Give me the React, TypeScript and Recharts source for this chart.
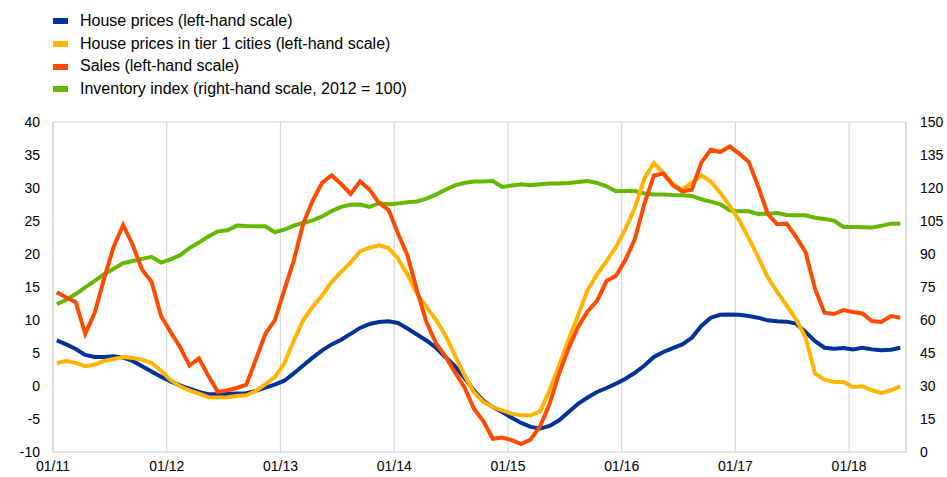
import React from 'react';
import { LineChart, Line, XAxis, YAxis, CartesianGrid } from 'recharts';

const xTickLabels = ['01/11', '01/12', '01/13', '01/14', '01/15', '01/16', '01/17', '01/18'];
const leftTicks = [-10, -5, 0, 5, 10, 15, 20, 25, 30, 35, 40];
const rightTicks = [0, 15, 30, 45, 60, 75, 90, 105, 120, 135, 150];

// Monthly observations, Jan 2011 – Jun 2018
const housePrices = [
  6.9, 6.3, 5.6, 4.7, 4.4, 4.4, 4.5, 4.3, 3.8, 3.0, 2.2, 1.4,
  0.7, 0.1, -0.4, -0.9, -1.25, -1.25, -1.2, -1.15, -1.1, -0.75, -0.25, 0.2,
  0.8, 1.9, 3.1, 4.3, 5.4, 6.3, 7.0, 7.9, 8.8, 9.4, 9.7, 9.8,
  9.55, 8.7, 7.8, 6.9, 5.8, 4.4, 3.0, 1.25, -0.65, -2.2, -3.2, -3.95,
  -4.8, -5.6, -6.2, -6.45, -6.05, -5.2, -3.95, -2.7, -1.75, -0.9, -0.3, 0.35,
  1.1, 2.0, 3.1, 4.4, 5.15, 5.75, 6.3, 7.3, 9.1, 10.35, 10.8, 10.85,
  10.8, 10.6, 10.35, 9.95, 9.8, 9.75, 9.45, 8.2, 6.8, 5.8, 5.65, 5.75,
  5.55, 5.8, 5.55, 5.4, 5.5, 5.8,
];
const tier1Prices = [
  3.5, 3.8, 3.5, 3.0, 3.25, 3.8, 4.1, 4.4, 4.25, 4.0, 3.5, 2.3,
  0.9, -0.05, -0.65, -1.15, -1.7, -1.75, -1.7, -1.5, -1.4, -0.75, 0.25, 1.35,
  3.4, 6.9, 9.95, 12.0, 13.75, 15.75, 17.3, 18.7, 20.4, 20.95, 21.3, 20.9,
  19.3, 16.9, 14.0, 12.0, 10.05, 7.7, 4.65, 1.7, -0.9, -2.4, -3.2, -3.7,
  -4.2, -4.45, -4.45, -3.85, -0.65, 3.1, 7.0, 10.7, 14.5, 16.9, 18.9, 21.1,
  23.8, 27.0, 31.5, 33.8, 32.3, 30.6, 29.75, 30.8, 31.9, 31.0, 29.3, 27.3,
  25.1, 22.4, 19.55, 16.5, 14.25, 12.2, 10.1, 7.4, 1.9, 0.95, 0.6, 0.6,
  -0.15, -0.05, -0.65, -1.05, -0.65, -0.05,
];
const sales = [
  14.2, 13.4, 12.7, 7.9, 11.1, 16.3, 21.1, 24.4, 21.4, 17.6, 15.8, 10.6,
  8.2, 5.9, 3.1, 4.2, 1.5, -0.9, -0.65, -0.3, 0.2, 4.0, 7.9, 9.95,
  14.5, 19.0, 24.6, 28.1, 30.8, 31.9, 30.6, 29.1, 31.0, 29.75, 27.7, 26.7,
  23.1, 19.8, 14.5, 9.7, 6.5, 4.5, 2.1, -0.15, -3.4, -5.3, -8.0, -7.8,
  -8.2, -8.8, -8.1, -6.1, -2.7, 1.9, 5.7, 8.95, 11.3, 12.9, 15.9, 16.7,
  19.1, 22.3, 27.6, 31.9, 32.2, 30.4, 29.5, 29.75, 33.85, 35.8, 35.45, 36.3,
  35.2, 34.0, 30.25, 26.1, 24.5, 24.6, 22.6, 20.3, 14.75, 11.1, 10.9, 11.5,
  11.2, 11.0, 9.85, 9.7, 10.6, 10.35,
];
const inventory = [
  67.2, 69.2, 71.8, 74.8, 77.8, 80.8, 83.3, 85.8, 86.8, 87.8, 88.7, 86.1,
  87.6, 89.4, 92.7, 95.2, 98.0, 100.3, 100.8, 102.9, 102.7, 102.6, 102.6, 99.9,
  101.1, 102.9, 104.1, 105.3, 107.1, 109.5, 111.4, 112.4, 112.5, 111.4, 113.1, 112.6,
  112.9, 113.5, 113.9, 115.2, 117.0, 119.2, 121.2, 122.3, 122.9, 123.0, 123.2, 120.5,
  121.1, 121.7, 121.2, 121.7, 122.0, 122.0, 122.3, 122.7, 123.2, 122.3, 120.8, 118.5,
  118.6, 118.6, 117.5, 117.0, 117.1, 116.8, 116.7, 116.4, 114.9, 113.8, 112.6, 109.9,
  109.4, 109.4, 108.2, 108.3, 108.6, 107.7, 107.6, 107.6, 106.5, 105.9, 105.2, 102.3,
  102.3, 102.2, 102.0, 102.8, 103.8, 103.7,
];

const seriesNames = [
  'House prices (left-hand scale)',
  'House prices in tier 1 cities (left-hand scale)',
  'Sales (left-hand scale)',
  'Inventory index (right-hand scale, 2012 = 100)',
];
const seriesColors = ['#003299', '#FFB400', '#FF4B00', '#65B800'];

const data = housePrices.map((v, i) => ({
  t: i + 0.4,
  house: v,
  tier1: tier1Prices[i],
  sales: sales[i],
  inventory: inventory[i],
}));

const xTicks = xTickLabels.map((_, k) => k * 12);
const FONT = '"Liberation Sans", Arial, sans-serif';
const GRID = '#d9d9d9';

function LegendBlock() {
  return (
    <div style={{ position: 'absolute', left: 53, top: 10, fontFamily: FONT, fontSize: 16, color: '#000', lineHeight: '22.7px' }}>
      {seriesNames.map((n, k) => (
        <div key={n} style={{ display: 'flex', alignItems: 'center', height: 22.7 }}>
          <div style={{ width: 15, height: 6, background: seriesColors[k], marginRight: 12 }} />
          <span>{n}</span>
        </div>
      ))}
    </div>
  );
}

export default function App() {
  return (
    <div style={{ position: 'absolute', left: 0, top: 0, width: 947, height: 477, background: '#fff' }}>
      <LegendBlock />
      <LineChart
        width={947}
        height={477}
        data={data}
        margin={{ top: 122, right: 0, bottom: 0, left: 0 }}
        style={{ fontFamily: FONT }}
      >
        <CartesianGrid stroke={GRID} strokeWidth={1.2} />
        <XAxis
          dataKey="t"
          type="number"
          domain={[0, 90]}
          ticks={xTicks}
          interval={0}
          allowDataOverflow
          tickFormatter={(v: number) => xTickLabels[Math.round(v / 12)]}
          height={25}
          tickSize={0}
          tickMargin={9}
          axisLine={{ stroke: GRID, strokeWidth: 1.2 }}
          tick={{ fill: '#000', fontSize: 14, fontFamily: FONT }}
        />
        <YAxis
          yAxisId="left"
          orientation="left"
          domain={[-10, 40]}
          ticks={leftTicks}
          interval={0}
          width={53}
          tickSize={0}
          tickMargin={13}
          axisLine={{ stroke: GRID, strokeWidth: 1.2 }}
          tick={{ fill: '#000', fontSize: 14, fontFamily: FONT }}
        />
        <YAxis
          yAxisId="right"
          orientation="right"
          domain={[0, 150]}
          ticks={rightTicks}
          interval={0}
          width={41}
          tickSize={0}
          tickMargin={14}
          axisLine={{ stroke: GRID, strokeWidth: 1.2 }}
          tick={{ fill: '#000', fontSize: 14, fontFamily: FONT, textAnchor: 'start' }}
        />
        <Line yAxisId="right" type="linear" dataKey="inventory" stroke={seriesColors[3]} strokeWidth={4} dot={false} isAnimationActive={false} />
        <Line yAxisId="left" type="linear" dataKey="house" stroke={seriesColors[0]} strokeWidth={4} dot={false} isAnimationActive={false} />
        <Line yAxisId="left" type="linear" dataKey="tier1" stroke={seriesColors[1]} strokeWidth={4} dot={false} isAnimationActive={false} />
        <Line yAxisId="left" type="linear" dataKey="sales" stroke={seriesColors[2]} strokeWidth={4} dot={false} isAnimationActive={false} />
      </LineChart>
    </div>
  );
}
